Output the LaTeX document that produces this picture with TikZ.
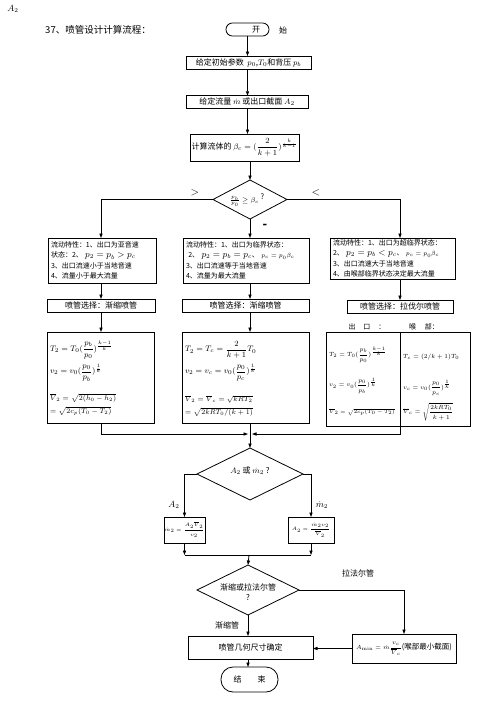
\documentclass[tikz,border=0pt]{standalone}
\usepackage{amsmath}
\usepackage[no-math]{fontspec}
\setmainfont{Noto Sans CJK SC}
\usetikzlibrary{shapes.geometric,arrows.meta}
\newcommand{\fs}[1]{\fontsize{#1}{#1}\selectfont}
\begin{document}
\begin{tikzpicture}[x=1pt,y=-1pt,
  every node/.style={inner sep=0pt,outer sep=0pt},
  ln/.style={line width=0.8pt},
  arr/.style={line width=0.8pt,-{Triangle[length=4.5pt,width=3.2pt]}},
  box/.style={draw,line width=0.8pt,font=\fs{8}},
  info/.style={draw,line width=0.8pt,font=\fontsize{7}{10.5}\selectfont,align=left,inner xsep=3pt},
  dia/.style={draw,diamond,aspect=2,line width=0.8pt},
  lab/.style={font=\fs{8}},
  fml/.style={anchor=west,font=\fs{8}},
  sfml/.style={anchor=west,font=\fs{6}}]
\useasboundingbox (0,0) rectangle (496,702);
% header
\node[font=\fs{9}] (A2) at (13,9) {$A_2$};
\node[font=\fs{9.5}] (title) at (98,30) {37、喷管设计计算流程：};
\node[draw,line width=0.8pt,rounded corners=6.4pt,minimum width=43pt,minimum height=13pt] (start) at (247.5,29.5) {};
\node[lab] (kai) at (256,30) {开};
\node[lab] (shi) at (283,30) {始};
% top boxes
\node[box,minimum width=125pt,minimum height=13pt] (b1) at (248.5,62.5) {给定初始参数\ \ $p_0$,$T_0$和背压 $p_b$};
\node[box,minimum width=122pt,minimum height=12.5pt] (b2) at (247,102) {给定流量 $\dot m$ 或出口截面 $A_2$};
\node[box,minimum width=109pt,minimum height=27pt] (b3) at (244.5,147.5) {计算流体的 $\beta_c=(\dfrac{2}{k+1})^{\frac{k}{k-1}}$};
\draw[arr] (start) -- (start |- b1.north);
\draw[arr] (b1.south -| start) -- (b2.north -| start);
\draw[arr] (b2.south -| start) -- (b3.north -| start);
% decision 1
\node[dia,minimum width=74pt,minimum height=39pt] (d1) at (250,199.5) {};
\node[font=\fs{7.5}] (d1t) at (247,200) {$\frac{p_b}{p_0}\ge\beta_c$\ \raisebox{3pt}{?}};
\draw[arr] (b3.south -| d1) -- (d1.north);
\node[font=\fs{11}] (gt) at (195,193) {$>$};
\node[font=\fs{11}] (lt) at (316,193) {$<$};
\node[font=\fs{12}\bfseries] (eqs) at (265,226) {-};
% info boxes
\node[info,minimum width=108pt,minimum height=45pt,text width=102pt] (lbox) at (102,260.5) {流动特性：1、出口为亚音速\\状态：2、 {\fs{9}$p_2=p_b>p_c$}\\3、出口流速小于当地音速\\4、流量小于最大流量};
\node[info,minimum width=126pt,minimum height=45pt,text width=120pt] (mbox) at (246,260.5) {流动特性：1、出口为临界状态：\\\ 2、 {\fs{9}$p_2=p_b=p_c$}、 {\fs{6}$p_c=p_0\beta_c$}\\3、出口流速等于当地音速\\4、流量为最大流量};
\node[info,minimum width=125pt,minimum height=41pt,text width=119pt] (rbox) at (392.5,258.5) {流动特性：1、出口为超临界状态：\\2、 {\fs{9}$p_2=p_b<p_c$}、 {\fs{6}$p_c=p_0\beta_c$}\\3、出口流速大于当地音速\\4、由喉部临界状态决定最大流量};
% selection boxes
\node[box,minimum width=108pt,minimum height=13pt] (lsel) at (101,305.5) {喷管选择：渐缩喷管};
\node[box,minimum width=127pt,minimum height=13pt] (msel) at (245.5,305.5) {喷管选择：渐缩喷管};
\node[box,minimum width=106pt,minimum height=13pt] (rsel) at (400,306.5) {喷管选择：拉伐尔喷管};
\draw[arr] (d1.west) -| (lbox.north -| lsel);
\draw[arr] (d1.south) -- (mbox.north -| d1);
\draw[arr] (d1.east) -| (rbox.north -| rsel);
\draw[arr] (lbox.south -| lsel) -- (lsel.north);
\draw[arr] (mbox.south -| d1) -- (msel.north -| d1);
\draw[arr] (rbox.south -| rsel) -- (rsel.north);
% formula boxes
\node[draw,line width=0.8pt,minimum width=107pt,minimum height=91pt] (lform) at (100.5,377.5) {};
\node[draw,line width=0.8pt,minimum width=127pt,minimum height=91pt] (mform) at (245.5,377.5) {};
\node[draw,line width=0.8pt,minimum width=144pt,minimum height=94pt] (rform) at (398,379) {};
\draw[arr] (lsel.south) -- (lform.north -| lsel);
\draw[arr] (msel.south -| d1) -- (mform.north -| d1);
\node[font=\fs{7}] (chukou) at (367,327) {出\hspace{8pt}口\hspace{8pt}：};
\node[font=\fs{7}] (houbu) at (424,327) {喉\hspace{9pt}部：};
% left formulas
\node[fml] (lf1) at (50,350) {$T_2=T_0(\dfrac{p_b}{p_0})^{\frac{k-1}{k}}$};
\node[fml] (lf2) at (50,373) {$v_2=v_0(\dfrac{p_0}{p_b})^{\frac{1}{k}}$};
\node[fml,font=\fs{7}] (lf3) at (50,398) {$\overline{V}_2=\sqrt{2(h_0-h_2)}$};
\node[fml,font=\fs{7}] (lf4) at (50,411) {$=\sqrt{2c_p(T_0-T_2)}$};
% middle formulas
\node[fml] (mf1) at (185,350) {$T_2=T_c=\dfrac{2}{k+1}T_0$};
\node[fml] (mf2) at (185,373) {$v_2=v_c=v_0(\dfrac{p_0}{p_c})^{\frac{1}{k}}$};
\node[fml,font=\fs{7}] (mf3) at (185,399) {$\overline{V}_2=\overline{V}_c=\sqrt{kRT_2}$};
\node[fml,font=\fs{7}] (mf4) at (185,412) {$=\sqrt{2kRT_0/(k+1)}$};
% right formulas
\node[sfml,font=\fs{6.5}] (rf1) at (329,355) {$T_2=T_0(\dfrac{p_b}{p_0})^{\frac{k-1}{k}}$};
\node[sfml,font=\fs{6.5}] (rf2) at (329,386) {$v_2=v_0(\dfrac{p_0}{p_b})^{\frac{1}{k}}$};
\node[sfml,font=\fs{5.5}] (rf3) at (329,412) {$\overline{V}_2=\sqrt{2c_p(T_0-T_2)}$};
\node[sfml] (rf4) at (403,357) {$T_c=(2/k+1)T_0$};
\node[sfml] (rf5) at (403,388) {$v_c=v_0(\dfrac{p_0}{p_c})^{\frac{1}{k}}$};
\node[sfml] (rf6) at (403,412) {$\overline{V}_c=\sqrt{\dfrac{2kRT_0}{k+1}}$};
% merge to decision 2
\node[dia,minimum width=106pt,minimum height=52pt] (d2) at (250,474) {};
\node[font=\fs{8}] (d2t) at (250,471) {$A_2$ 或 $\dot m_2$ ?};
\coordinate (jL) at (248,434);
\coordinate (jR) at (252,434);
\draw[arr] (lform.south -| lsel) -- (lsel |- jL) -- (jL);
\draw[arr] (rsel |- rform.north) -- (rsel |- jR) -- (jR);
\draw[arr] (mform.south -| d1) -- (d2.north);
% small boxes
\node[draw,line width=0.8pt,minimum width=41pt,minimum height=26pt,font=\fs{5}] (lsm) at (184.5,530) {$\dot m_2=\dfrac{A_2\overline{V}_2}{v_2}$};
\node[draw,line width=0.8pt,minimum width=46pt,minimum height=26pt,font=\fs{5}] (rsm) at (311,530) {$A_2=\dfrac{\dot m_2 v_2}{\overline{V}_2}$};
\draw[arr] (d2.west) -| (lsm.north);
\draw[arr] (d2.east) -| (rsm.north);
\node[font=\fs{9}] (labA) at (174,505) {$A_2$};
\node[font=\fs{9}] (labm) at (322,505) {$\dot m_2$};
\coordinate (m1) at (249,555);
\draw[arr] (lsm.south) -- (lsm.south |- m1);
\draw[arr] (rsm.south) -- (rsm.south |- m1);
\draw[ln] (lsm.south |- m1) -- (rsm.south |- m1);
% decision 3
\node[dia,minimum width=102pt,minimum height=50pt] (d3) at (248,590) {};
\node[font=\fs{8},align=center] (d3t) at (248,592) {渐缩或拉法尔管\\[2pt]?};
\draw[arr] (m1) -- (d3.north);
\node[draw,line width=0.8pt,minimum width=104pt,minimum height=29pt,font=\fs{7.5}] (rres) at (404,648.5) {{\fs{6}$A_{\min}=\dot m\dfrac{v_c}{\overline{V}_c}$}(喉部最小截面)};
\node[box,minimum width=125pt,minimum height=23pt] (geom) at (250.5,647.5) {喷管几何尺寸确定};
\draw[arr] (d3.east) -| (rres.north);
\draw[arr] (rres.west) -- (rres.west -| geom.east);
\draw[arr] (d3.south) -- (d3.south |- geom.north);
\node[lab] (lbz) at (227,625) {渐缩管};
\node[lab] (lbl) at (358,573) {拉法尔管};
\node[draw,line width=0.8pt,rounded corners=12pt,minimum width=57pt,minimum height=25pt,font=\fs{8}] (endn) at (249.5,679.5) {结\hspace{16pt}束};
\draw[arr] (geom.south -| d3) -- (endn.north -| d3);
\end{tikzpicture}
\end{document}
